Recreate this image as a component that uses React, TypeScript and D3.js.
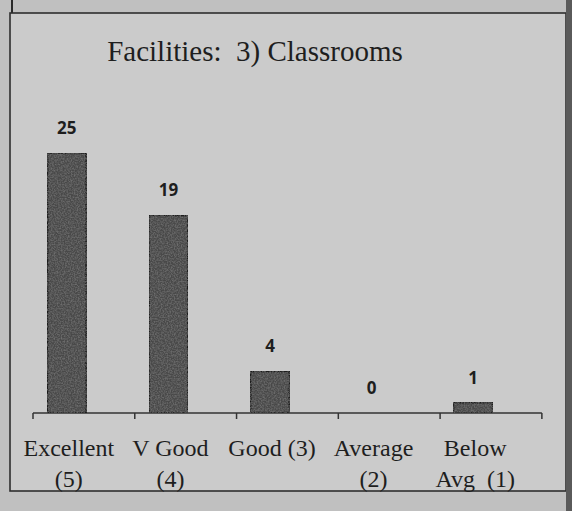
import React from "react";
import * as d3 from "d3";

const categories = ["Excellent (5)", "V Good (4)", "Good (3)", "Average (2)", "Below Avg (1)"];
const values = [25, 19, 4, 0, 1];
const labelLine1 = ["Excellent", "V Good", "Good (3)", "Average", "Below"];
const labelLine2 = ["(5)", "(4)", "", "(2)", "Avg  (1)"];
const title = "Facilities:  3) Classrooms";

const W = 572;
const H = 511;

export default function App() {
  const x = d3
    .scaleBand<string>()
    .domain(categories)
    .range([12, 528])
    .paddingInner(0.62)
    .paddingOuter(0.35);
  const y = d3.scaleLinear().domain([0, 25]).range([413, 153]);
  const step = x.step();
  const start = x.range()[0];
  const ticks = d3.range(categories.length + 1).map((i) => start + 21 + i * (step + 0.2));

  return (
    <svg
      width={W}
      height={H}
      style={{ position: "absolute", left: 0, top: 0, background: "#c0c0c0" }}
    >
      <defs>
        <filter id="grain" x="0" y="0" width="100%" height="100%">
          <feTurbulence type="fractalNoise" baseFrequency="0.7" numOctaves="2" seed="3" result="n" />
          <feColorMatrix
            in="n"
            type="matrix"
            values="0 0 0 0 0.2  0 0 0 0 0.2  0 0 0 0 0.2  0 0 0 1.4 -0.5"
            result="spots"
          />
          <feComposite in="spots" in2="SourceGraphic" operator="in" result="c" />
          <feMerge>
            <feMergeNode in="SourceGraphic" />
            <feMergeNode in="c" />
          </feMerge>
        </filter>
      </defs>
      {/* page frame */}
      <line x1={12} y1={0} x2={12} y2={14} stroke="#2a2a2a" strokeWidth={2} />
      <rect x={10} y={13} width={556} height={478} fill="#cbcbcb" stroke="#2e2e2e" strokeWidth={1.6} />
      <rect x={566} y={0} width={6} height={H} fill="#5a5a5a" />

      <text
        x={255}
        y={61}
        textAnchor="middle"
        fontFamily="'Liberation Serif', 'Times New Roman', serif"
        fontSize={29}
        fill="#1e1e1e"
        style={{ whiteSpace: "pre" }}
      >
        {title}
      </text>

      {/* axis line */}
      <line
        x1={ticks[0]}
        x2={ticks[ticks.length - 1]}
        y1={y(0)}
        y2={y(0)}
        stroke="#333"
        strokeWidth={1.5}
      />
      {ticks.map((t, i) => (
        <line key={i} x1={t} x2={t} y1={y(0)} y2={y(0) + 6} stroke="#333" strokeWidth={1.5} />
      ))}

      {categories.map((c, i) => {
        const v = values[i];
        const bx = x(c)!;
        const bw = x.bandwidth();
        const h = y(0) - y(v);
        return (
          <g key={c}>
            {v > 0 && (
              <rect
                x={bx}
                y={y(v)}
                width={bw}
                height={h}
                fill="#4a4a4a"
                stroke="#1c1c1c"
                strokeWidth={1.6}
                filter="url(#grain)"
              />
            )}
            <text
              x={bx + bw / 2}
              y={y(v) - 19}
              textAnchor="middle"
              fontFamily="'Open Sans', 'DejaVu Sans', sans-serif"
              fontWeight="bold"
              fontSize={17}
              fill="#1e1e1e"
            >
              {v}
            </text>
            <text
              x={bx + bw / 2 + 2}
              y={456}
              textAnchor="middle"
              fontFamily="'Liberation Serif', 'Times New Roman', serif"
              fontSize={24}
              fill="#1e1e1e"
              style={{ whiteSpace: "pre" }}
            >
              {labelLine1[i]}
            </text>
            <text
              x={bx + bw / 2 + 2}
              y={487}
              textAnchor="middle"
              fontFamily="'Liberation Serif', 'Times New Roman', serif"
              fontSize={24}
              fill="#1e1e1e"
              style={{ whiteSpace: "pre" }}
            >
              {labelLine2[i]}
            </text>
          </g>
        );
      })}
    </svg>
  );
}
